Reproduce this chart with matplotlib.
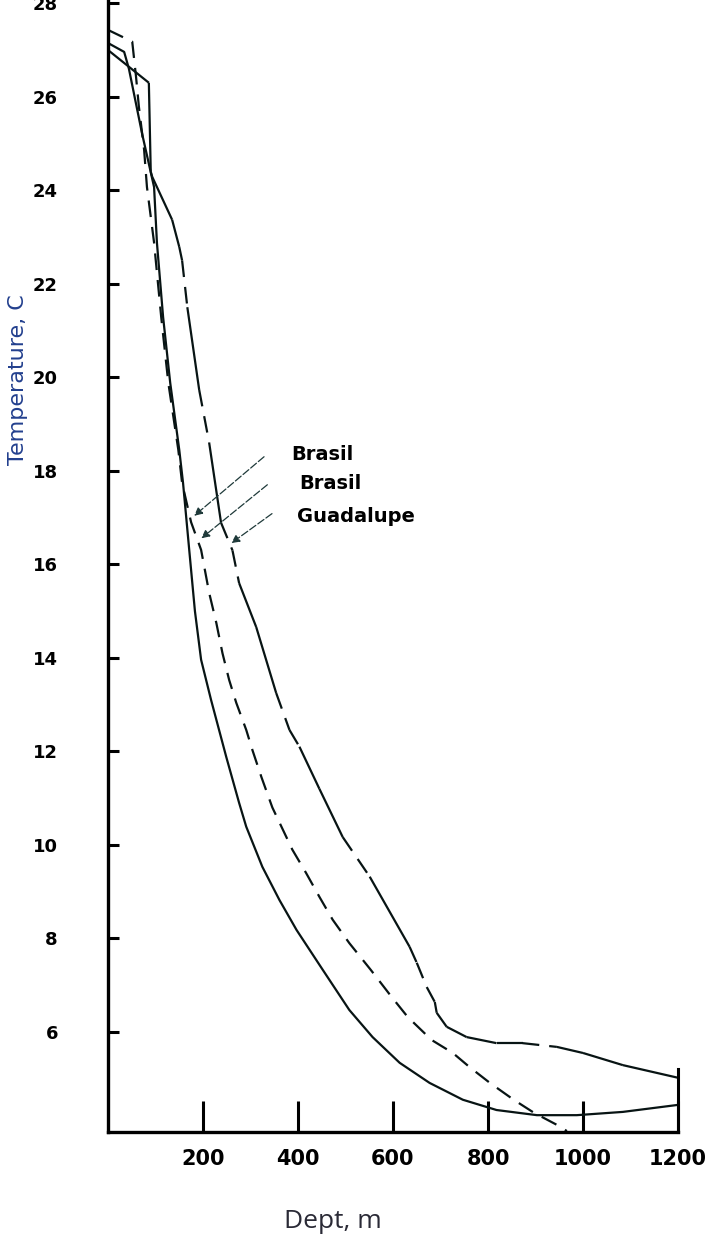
import numpy as np
import matplotlib.pyplot as plt

plt.rcParams['font.family'] = ['DejaVu Sans']

# depth (m) vs temperature (C)
depth_a = [0, 34, 44, 72, 97, 103, 116, 131, 150, 158, 171, 183, 196, 217, 249, 276,
           291, 325, 361, 397, 452, 508, 557, 614, 677, 747, 818, 903, 987, 1084, 1200]
temp_a = [27.15, 26.96, 26.6, 25.2, 24.07, 22.88, 21.29, 19.88, 18.45, 17.74, 16.31,
          15.0, 13.96, 13.1, 11.88, 10.9, 10.39, 9.53, 8.82, 8.18, 7.33, 6.47, 5.89,
          5.34, 4.91, 4.55, 4.33, 4.22, 4.22, 4.29, 4.44]

depth_b = [0, 51, 59, 65, 76, 82, 97, 112, 127, 148, 156, 175, 196, 213, 228, 241,
           255, 270, 291, 304, 323, 346, 388, 417, 445, 473, 508, 553, 597, 631, 681,
           726, 761, 804, 854, 897, 953, 966]
temp_b = [27.43, 27.18, 26.43, 25.79, 24.87, 24.07, 22.88, 21.29, 19.88, 18.45, 17.74,
          16.9, 16.31, 15.39, 14.75, 14.1, 13.53, 13.04, 12.46, 12.03, 11.45, 10.8,
          9.9, 9.4, 8.89, 8.4, 7.9, 7.33, 6.75, 6.32, 5.83, 5.55, 5.25, 4.91, 4.55,
          4.27, 3.97, 3.88]

depth_c = [0, 86, 90, 93, 135, 150, 156, 167, 192, 213, 238, 262, 276, 312, 354, 382,
           403, 445, 494, 551, 635, 650, 671, 688, 692, 713, 755, 818, 873, 945, 1000,
           1084, 1200]
temp_c = [27.0, 26.3, 24.4, 24.29, 23.37, 22.79, 22.5, 21.5, 19.73, 18.6, 16.89, 16.3,
          15.6, 14.66, 13.25, 12.46, 12.1, 11.2, 10.17, 9.32, 7.82, 7.48, 6.96, 6.64,
          6.41, 6.11, 5.89, 5.76, 5.76, 5.68, 5.55, 5.29, 5.02]

x_ticks = [200, 400, 600, 800, 1000, 1200]
y_ticks = [6, 8, 10, 12, 14, 16, 18, 20, 22, 24, 26, 28]
labels = ['Brasil', 'Brasil', 'Guadalupe']

# segments of the Guadalupe curve drawn broken in the original
c_dashed = {5, 6, 8, 10, 11, 14, 15, 18, 20, 21, 22, 28}

ink = '#081414'
dash = (0, (7.5, 4.5))

fig = plt.figure(figsize=(7.16, 12.51), dpi=100)
ax = fig.add_axes([108 / 716, 119 / 1251, 570 / 716, 1132 / 1251])

ax.plot(depth_a, temp_a, color=ink, lw=1.6)
ax.plot(depth_b, temp_b, color=ink, lw=1.6, linestyle=dash)
for i in range(len(depth_c) - 1):
    ls = dash if i in c_dashed else '-'
    ax.plot(depth_c[i:i + 2], temp_c[i:i + 2], color=ink, lw=1.6, linestyle=ls,
            solid_capstyle='butt')

ax.set_xlim(0, 1200)
ax.set_ylim(3.86, 28.07)

# end bar at 1200 m
ax.plot([1200, 1200], [3.86, 5.2], color='black', lw=2.2, clip_on=False)

for s in ['top', 'right']:
    ax.spines[s].set_visible(False)
for s in ['left', 'bottom']:
    ax.spines[s].set_linewidth(2.4)
    ax.spines[s].set_color('black')

ax.set_xticks(x_ticks)
ax.set_yticks(y_ticks)
ax.tick_params(axis='x', direction='in', length=22, width=2.2, pad=12,
               labelsize=15)
ax.tick_params(axis='y', direction='in', length=8, width=2.2, pad=36,
               labelsize=13)
for t in ax.get_xticklabels():
    t.set_fontfamily(['Liberation Sans Narrow', 'DejaVu Sans'])
    t.set_fontweight('bold')
for t in ax.get_yticklabels():
    t.set_fontweight('bold')

# labels with leader arrows
ends = [(177, 17.0), (192, 16.52), (255, 16.42)]
starts = [(333, 18.34), (340, 17.74), (350, 17.12)]
text_pos = [(386, 18.34), (403, 17.74), (397, 17.02)]
for lab, e, s, tp in zip(labels, ends, starts, text_pos):
    ax.annotate('', xy=e, xytext=s,
                arrowprops=dict(arrowstyle='-|>', color='#1f3a3a', lw=0.9,
                                linestyle=(0, (6, 2)), mutation_scale=12))
    ax.text(tp[0], tp[1], lab, fontsize=14, fontweight='bold', va='center',
            ha='left', family=['Liberation Sans Narrow', 'DejaVu Sans'])

fig.text(18 / 716, 1 - 380 / 1251, 'Temperature, C', rotation=90, color='#23408e',
         fontsize=16, ha='center', va='center',
         family=['Liberation Sans Narrow', 'DejaVu Sans'])
fig.text(333 / 716, 1 - 1222 / 1251, 'Dept, m', color='#2a2a36', fontsize=19,
         ha='center', va='center', family=['Open Sans', 'DejaVu Sans'])

fig.savefig('out.png', dpi=100)
